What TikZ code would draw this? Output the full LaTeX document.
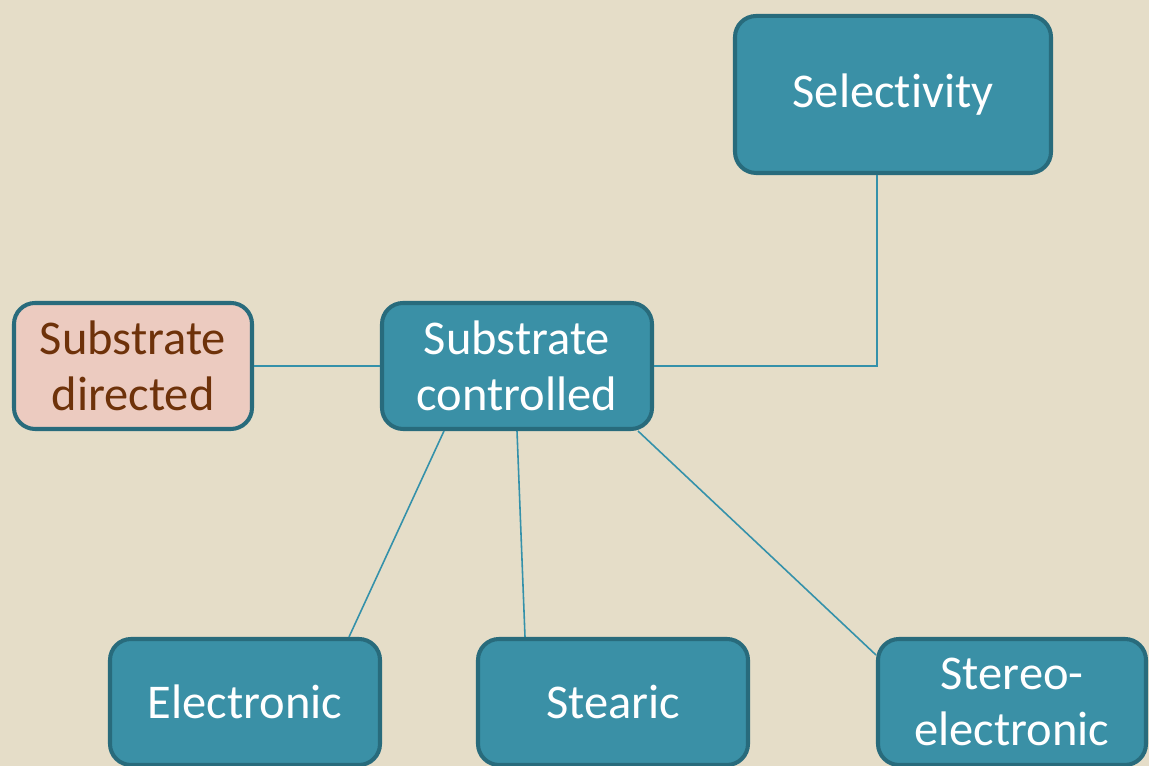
\documentclass[tikz,border=0pt]{standalone}
\usepackage{fontspec}
\setmainfont[Ligatures=CommonOff]{Carlito}
\usepackage{xcolor}
\definecolor{bgsand}{RGB}{229,221,200}
\definecolor{boxteal}{RGB}{58,144,166}
\definecolor{edgeteal}{RGB}{40,107,124}
\definecolor{linkteal}{RGB}{52,145,170}
\definecolor{boxpink}{RGB}{236,203,192}
\definecolor{textbrown}{RGB}{110,50,10}
\usetikzlibrary{positioning}

\tikzset{
  topicbox/.style={draw=edgeteal, fill=boxteal, line width=1.15pt, rounded corners=6pt,
    text=white, align=center, inner sep=2pt,
    font=\fontsize{13.8}{16}\selectfont},
  sidebox/.style={topicbox, fill=boxpink, text=textbrown},
  link/.style={draw=linkteal, line width=0.45pt}
}

\begin{document}
\begin{tikzpicture}

% Background
\fill[bgsand] (0,0) rectangle (11.49,7.66);
\useasboundingbox (0,0) rectangle (11.49,7.66);

% === Top ===
\node[topicbox, minimum width=3.16cm, minimum height=1.57cm] (select) at (8.93,6.715) {Selectivity};

% === Middle row ===
\node[sidebox, minimum width=2.38cm, minimum height=1.26cm] (directed) at (1.33,4.00) {Substrate\\directed};
\node[topicbox, minimum width=2.70cm, minimum height=1.26cm] (controlled) at (5.17,4.00) {Substrate\\controlled};

% === Bottom row ===
\node[topicbox, minimum width=2.70cm, minimum height=1.26cm] (electronic) at (2.45,0.64) {Electronic};
\node[topicbox, minimum width=2.70cm, minimum height=1.26cm] (stearic) at (6.13,0.64) {Stearic};
\node[topicbox, minimum width=2.68cm, minimum height=1.26cm] (stereo) at (10.12,0.64) {Stereo-\\electronic};

% Connectors
\draw[link] (directed) -- (controlled);
\draw[link] (controlled.east) -| ([xshift=-1.6mm]select.south);
\draw[link] ([xshift=-7.3mm]controlled.south) -- ([xshift=10.4mm]electronic.north);
\draw[link] (controlled.south) -- ([xshift=-8.8mm]stearic.north);
\draw[link] ([xshift=12.1mm]controlled.south) -- ([yshift=4.7mm]stereo.west);

\end{tikzpicture}
\end{document}
